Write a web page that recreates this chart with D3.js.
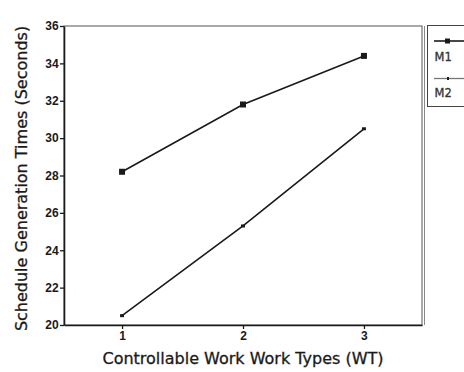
<!DOCTYPE html>
<html>
<head>
<meta charset="utf-8">
<script src="https://cdn.jsdelivr.net/npm/d3@7"></script>
<style>
  html, body { margin: 0; padding: 0; background: #fff; }
  svg { display: block; font-family: "DejaVu Sans", "Liberation Sans", Arial, sans-serif; }
</style>
</head>
<body>
<svg id="chart" width="464" height="372"></svg>
<script>
// Work types on the x axis
const workTypes = [1, 2, 3];
// Mean schedule generation times (seconds) per method
const m1Times = [28.2, 31.8, 34.4];
const m2Times = [20.5, 25.3, 30.5];
const seriesNames = ["M1", "M2"];
const yTicks = [20, 22, 24, 26, 28, 30, 32, 34, 36];

(function () {
const svg = d3.select("#chart");
const plotLeft = 64, plotRight = 422, plotTop = 26, plotBottom = 325;
const ink = "#1a1a1a";

const x = d3.scaleLinear().domain([0.52, 3.48]).range([plotLeft, plotRight]);
const y = d3.scaleLinear().domain([20, 36]).range([plotBottom, plotTop]);

// plot frame (right edge doubled by a second faint rule)
svg.append("rect")
  .attr("x", plotLeft).attr("y", plotTop)
  .attr("width", plotRight - plotLeft).attr("height", plotBottom - plotTop)
  .attr("fill", "none").attr("stroke", "#555").attr("stroke-width", 1);
svg.append("line")
  .attr("x1", plotRight + 2.5).attr("x2", plotRight + 2.5)
  .attr("y1", plotTop).attr("y2", plotBottom)
  .attr("stroke", "#888").attr("stroke-width", 1);

// y axis
const yAxis = svg.append("g")
  .attr("transform", `translate(${plotLeft},0)`)
  .call(d3.axisLeft(y).tickValues(yTicks).tickSize(4).tickSizeOuter(0));
yAxis.select(".domain").attr("stroke", ink).attr("stroke-width", 1.6);
yAxis.selectAll(".tick line").attr("stroke", ink).attr("stroke-width", 1.3);
yAxis.selectAll(".tick text")
  .attr("font-size", 12).attr("font-weight", "bold").attr("fill", ink)
  .attr("x", -5).attr("letter-spacing", 0.2);

// x axis
const xAxis = svg.append("g")
  .attr("transform", `translate(0,${plotBottom})`)
  .call(d3.axisBottom(x).tickValues(workTypes).tickFormat(d3.format("d")).tickSize(4).tickSizeOuter(0));
xAxis.select(".domain").attr("stroke", ink).attr("stroke-width", 1.6);
xAxis.selectAll(".tick line").attr("stroke", ink).attr("stroke-width", 1.3);
xAxis.selectAll(".tick text")
  .attr("font-size", 12).attr("font-weight", "bold").attr("fill", ink).attr("dy", "0.7em");

// axis titles
svg.append("text")
  .attr("x", 243).attr("y", 364)
  .attr("text-anchor", "middle")
  .attr("font-size", 16).attr("fill", ink)
  .attr("stroke", ink).attr("stroke-width", 0.3)
  .text("Controllable Work Work Types (WT)");

svg.append("text")
  .attr("transform", `translate(27,${(plotTop + plotBottom) / 2 + 3}) rotate(-90)`)
  .attr("text-anchor", "middle")
  .attr("font-size", 16).attr("fill", ink)
  .attr("stroke", ink).attr("stroke-width", 0.3)
  .text("Schedule Generation Times (Seconds)");

// series lines
const line = d3.line().x((d, i) => x(workTypes[i])).y(d => y(d));
[m1Times, m2Times].forEach(vals => {
  svg.append("path")
    .attr("d", line(vals))
    .attr("fill", "none").attr("stroke", ink).attr("stroke-width", 1.6);
});

// markers: squares for M1, small ticks for M2
svg.selectAll(".m1").data(m1Times).enter().append("rect")
  .attr("x", (d, i) => x(workTypes[i]) - 3)
  .attr("y", d => y(d) - 3)
  .attr("width", 6).attr("height", 6).attr("fill", ink);

svg.selectAll(".m2").data(m2Times).enter().append("rect")
  .attr("x", (d, i) => x(workTypes[i]) - 2)
  .attr("y", d => y(d) - 1.5)
  .attr("width", 4).attr("height", 3).attr("fill", ink);

// legend
const lg = svg.append("g");
lg.append("rect")
  .attr("x", 427.5).attr("y", 25.5).attr("width", 40).attr("height", 81)
  .attr("fill", "#fff").attr("stroke", "#444").attr("stroke-width", 1);
lg.append("line").attr("x1", 434).attr("x2", 464).attr("y1", 41).attr("y2", 41)
  .attr("stroke", ink).attr("stroke-width", 1.6);
lg.append("rect").attr("x", 445).attr("y", 38.5).attr("width", 5).attr("height", 5).attr("fill", ink);
lg.append("line").attr("x1", 434).attr("x2", 464).attr("y1", 78.5).attr("y2", 78.5)
  .attr("stroke", "#777").attr("stroke-width", 1.3);
lg.append("rect").attr("x", 447).attr("y", 77).attr("width", 2).attr("height", 3).attr("fill", ink);
lg.selectAll(".lab").data(seriesNames).enter().append("text")
  .attr("x", 434.5).attr("y", (d, i) => i === 0 ? 60.5 : 96.5)
  .attr("font-size", 11.5).attr("fill", "#333")
  .attr("stroke", "#333").attr("stroke-width", 0.3)
  .text(d => d);
})();
</script>
</body>
</html>
